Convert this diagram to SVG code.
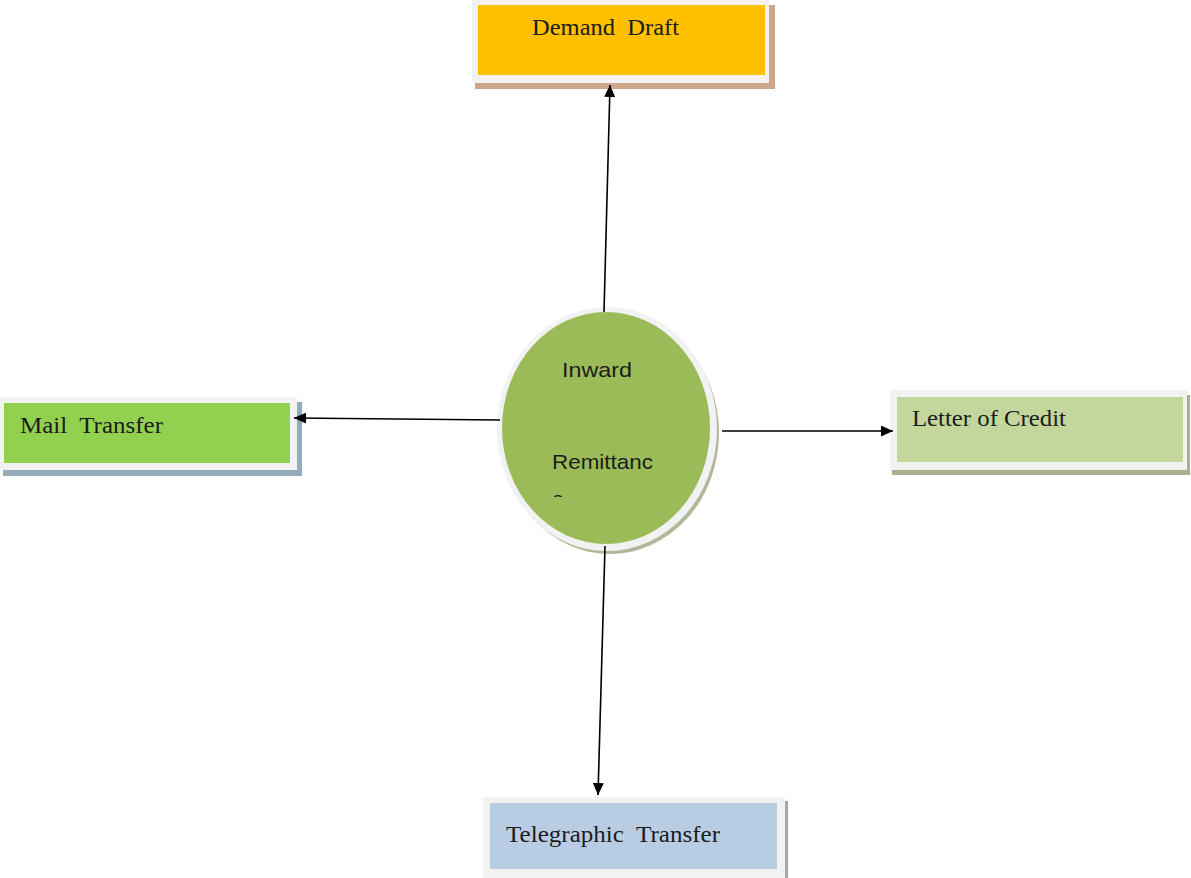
<svg xmlns="http://www.w3.org/2000/svg" width="1191" height="878" viewBox="0 0 1191 878">
<defs>
<style>
.serif{font-family:"Liberation Serif","Times New Roman",serif;font-size:24px;fill:#1c1c1c}
.sans{font-family:"Liberation Sans",Arial,sans-serif;font-size:21px;fill:#1c1c1c}
.frame{fill:#f2f2f2}
.conn{stroke:#000;stroke-width:1.6;fill:none;marker-end:url(#arr)}
</style>
<marker id="arr" markerUnits="userSpaceOnUse" markerWidth="12" markerHeight="11" refX="12" refY="5.5" orient="auto">
<path d="M0,0 L12,5.5 L0,11 z" fill="#000"/>
</marker>
<clipPath id="clipE"><rect x="540" y="300" width="140" height="197"/></clipPath>
</defs>
<rect width="1191" height="878" fill="#fff"/>
<g id="node-demand-draft">
<rect x="475" y="5" width="300" height="84" fill="#cfa68a"/>
<rect class="frame" x="472" y="0" width="297" height="83"/>
<rect x="478" y="5" width="287" height="70" fill="#ffc000"/>
<text class="serif" x="532" y="35" textLength="147" lengthAdjust="spacingAndGlyphs">Demand&#160; Draft</text>
</g>
<g id="node-mail-transfer">
<rect x="3" y="402" width="299" height="74" fill="#93abb8"/>
<rect class="frame" x="0" y="397" width="297" height="73"/>
<rect x="4" y="403" width="286" height="60" fill="#92d050"/>
<text class="serif" x="20" y="433" textLength="143" lengthAdjust="spacingAndGlyphs">Mail&#160; Transfer</text>
</g>
<g id="node-letter-of-credit">
<rect x="892" y="395" width="298" height="80" fill="#a9b191"/>
<rect class="frame" x="890" y="390" width="297" height="80"/>
<rect x="897" y="397" width="286" height="65" fill="#c3d69b"/>
<text class="serif" x="912" y="426" textLength="154" lengthAdjust="spacingAndGlyphs">Letter of Credit</text>
</g>
<g id="node-telegraphic-transfer">
<rect x="486" y="801" width="302" height="80" fill="#a6a6a6"/>
<rect class="frame" x="483" y="797" width="302" height="81"/>
<rect x="490" y="803" width="287" height="66" fill="#b8cce4"/>
<text class="serif" x="506" y="842" textLength="214" lengthAdjust="spacingAndGlyphs">Telegraphic&#160; Transfer</text>
</g>
<g id="node-inward-remittance">
<ellipse cx="610" cy="433" rx="109" ry="121" fill="#8e9a6e" opacity="0.7"/>
<ellipse cx="607" cy="429" rx="110" ry="122" fill="#f2f2f2"/>
<ellipse cx="606" cy="428" rx="104" ry="116" fill="#9bbb59"/>
<text class="sans" x="562" y="377" textLength="70" lengthAdjust="spacingAndGlyphs">Inward</text>
<text class="sans" x="552" y="469" textLength="101" lengthAdjust="spacingAndGlyphs">Remittanc</text>
<text class="sans" x="552" y="506" clip-path="url(#clipE)">e</text>
</g>
<g id="connectors">
<line class="conn" x1="604" y1="312" x2="610" y2="85"/>
<line class="conn" x1="500" y1="420" x2="294" y2="418"/>
<line class="conn" x1="722" y1="431" x2="893" y2="431"/>
<line class="conn" x1="605" y1="546" x2="598" y2="795"/>
</g>
</svg>
